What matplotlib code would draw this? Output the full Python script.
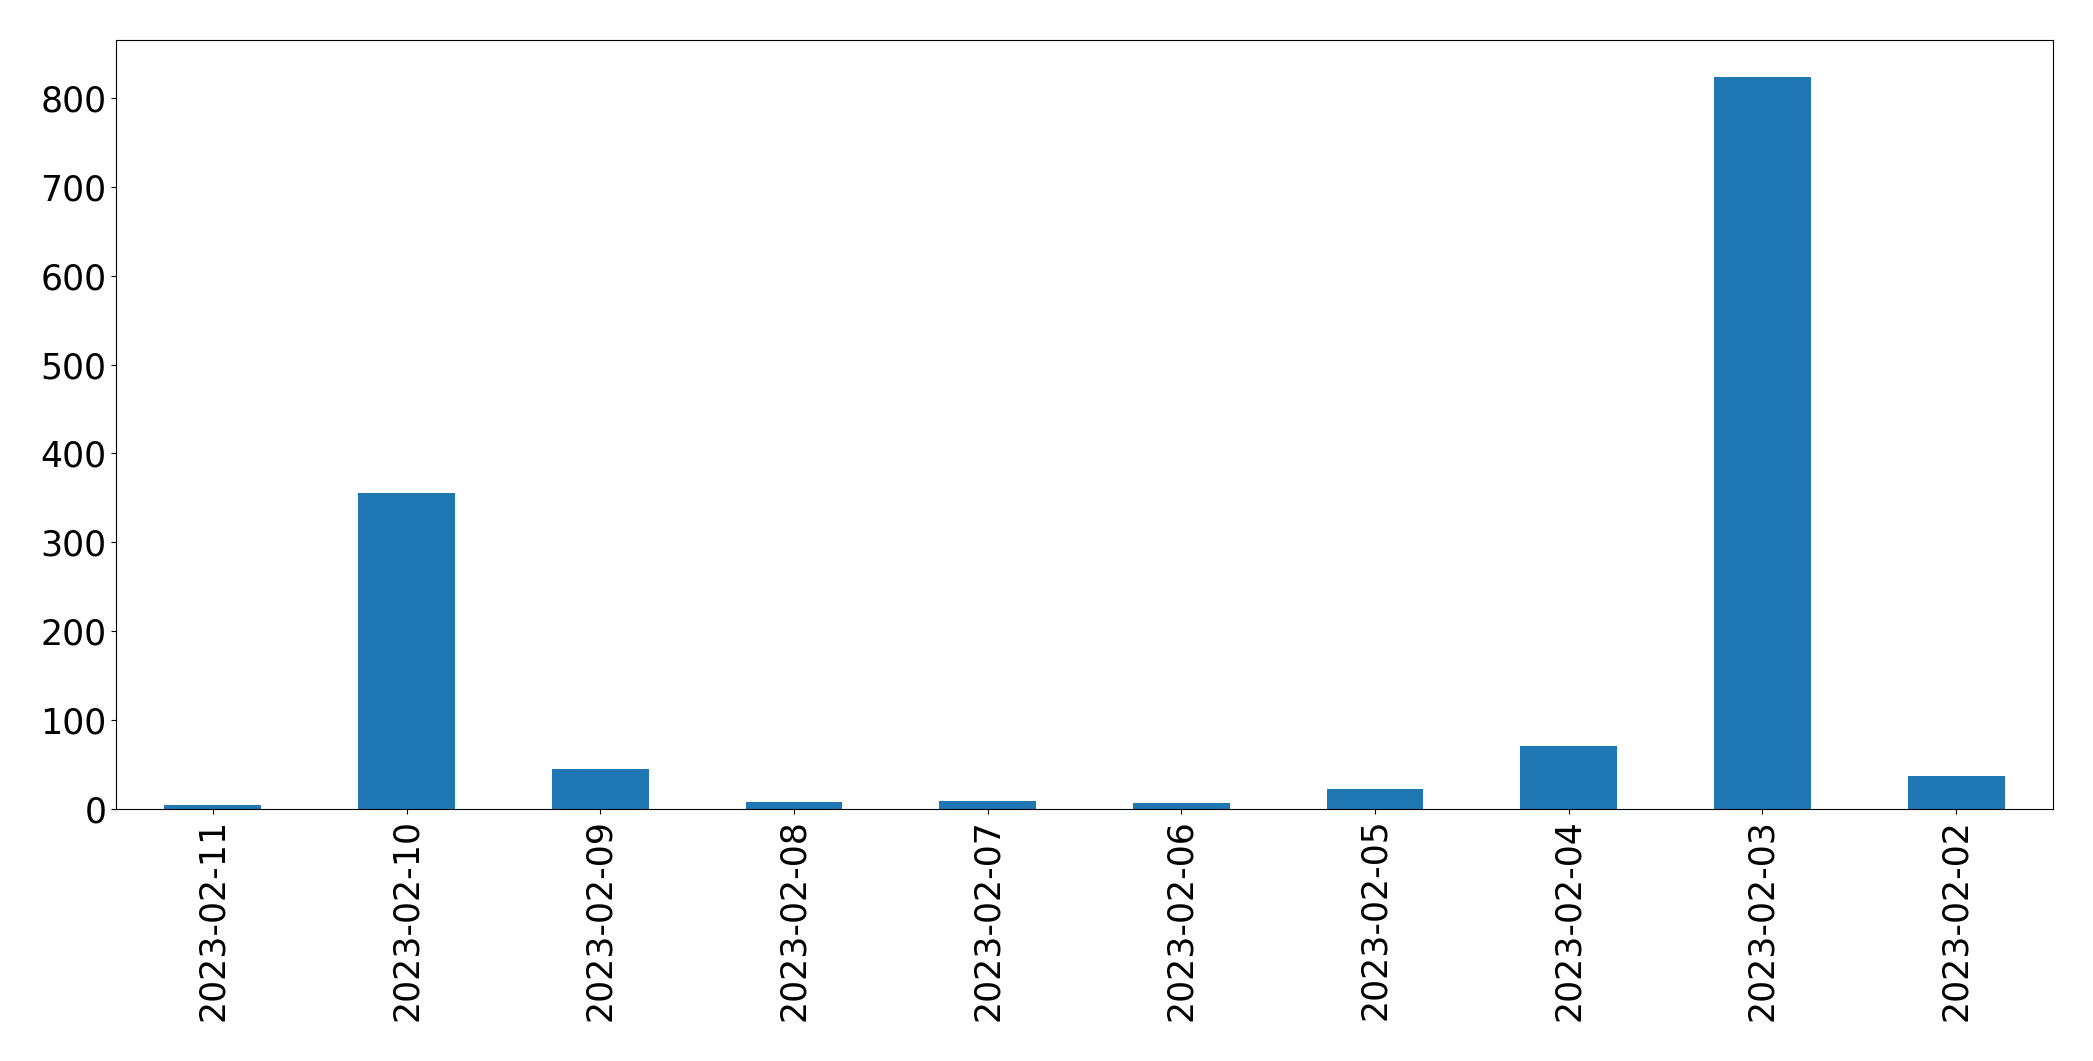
import matplotlib.pyplot as plt
import pandas as pd

dates = ['2023-02-11', '2023-02-10', '2023-02-09', '2023-02-08', '2023-02-07',
         '2023-02-06', '2023-02-05', '2023-02-04', '2023-02-03', '2023-02-02']
counts = [5, 355, 45, 8, 9, 7, 23, 71, 824, 37]


def execute():
    s = pd.Series(counts, index=dates)
    fig = plt.figure(figsize=(20.93, 10.61), dpi=100)
    ax = fig.add_axes([116 / 2093, 1 - 809 / 1061, (2053 - 116) / 2093, (809 - 40) / 1061])
    s.plot.bar(ax=ax, color='#1f77b4')
    ax.tick_params(axis='both', labelsize=25)
    plt.savefig('out.png')


if __name__ == '__main__':
    execute()
